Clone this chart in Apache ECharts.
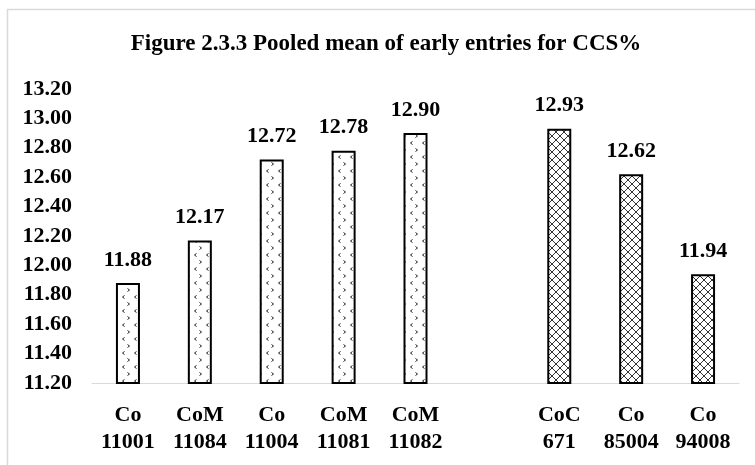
<!DOCTYPE html>
<html>
<head>
<meta charset="utf-8">
<script src="https://cdn.jsdelivr.net/npm/echarts@6/dist/echarts.min.js"></script>
<style>
  html, body { margin: 0; padding: 0; background: #fff; }
  #chart { width: 755px; height: 465px; }
</style>
</head>
<body>
<div id="chart"></div>
<script>
// Varieties (blank slot separates the test entries from the standards)
const categories = ['Co\n11001', 'CoM\n11084', 'Co\n11004', 'CoM\n11081', 'CoM\n11082', '', 'CoC\n671', 'Co\n85004', 'Co\n94008'];
const ccsValues = [11.88, 12.17, 12.72, 12.78, 12.90, null, 12.93, 12.62, 11.94];
const fillStyle = ['dots', 'dots', 'dots', 'dots', 'dots', null, 'hatch', 'hatch', 'hatch'];
const yTicks = { min: 11.2, max: 13.2, step: 0.2 };

const FONT = '"Liberation Serif", "Times New Roman", serif';

// Small chevron "confetti" fill
function makeDots() {
  const c = document.createElement('canvas');
  c.width = 12; c.height = 14;
  const g = c.getContext('2d');
  g.fillStyle = '#fff'; g.fillRect(0, 0, 12, 14);
  g.strokeStyle = '#222'; g.lineWidth = 1;
  g.beginPath();
  // "<" mark
  g.moveTo(4.5, 1.5); g.lineTo(2.5, 3); g.lineTo(4.5, 4.5);
  // ">" mark
  g.moveTo(7.5, 8.5); g.lineTo(9.5, 10); g.lineTo(7.5, 11.5);
  g.stroke();
  return c;
}

// Diamond cross-hatch fill
function makeHatch() {
  const c = document.createElement('canvas');
  c.width = 8; c.height = 8;
  const g = c.getContext('2d');
  g.fillStyle = '#fff'; g.fillRect(0, 0, 8, 8);
  g.strokeStyle = '#333'; g.lineWidth = 1;
  g.beginPath();
  g.moveTo(0, 0); g.lineTo(8, 8);
  g.moveTo(8, 0); g.lineTo(0, 8);
  g.stroke();
  return c;
}

const patterns = { dots: makeDots(), hatch: makeHatch() };

const seriesData = ccsValues.map((v, i) => {
  if (v === null) return '-';
  return {
    value: v,
    itemStyle: { color: { image: patterns[fillStyle[i]], repeat: 'repeat' } }
  };
});

const chart = echarts.init(document.getElementById('chart'), null, { renderer: 'canvas' });

chart.setOption({
  animation: false,
  backgroundColor: '#fff',
  title: {
    text: 'Figure 2.3.3 Pooled mean of early entries for CCS%',
    left: 381, top: 28, textAlign: 'center',
    textStyle: { fontFamily: FONT, fontWeight: 'bold', fontSize: 23, color: '#000' }
  },
  graphic: [{
    type: 'polyline',
    shape: { points: [[7.5, 470], [7.5, 9.5], [760, 9.5]] },
    style: { stroke: '#d9d9d9', lineWidth: 1.5, fill: null },
    silent: true
  }],
  grid: { left: 92, right: 16, top: 89, bottom: 82, containLabel: false },
  xAxis: {
    type: 'category',
    data: categories,
    axisLine: { show: true, lineStyle: { color: '#d9d9d9', width: 1 } },
    axisTick: { show: false },
    axisLabel: {
      interval: 0, margin: 19, lineHeight: 27,
      fontFamily: FONT, fontWeight: 'bold', fontSize: 22, color: '#000'
    }
  },
  yAxis: {
    type: 'value',
    min: yTicks.min, max: yTicks.max, interval: yTicks.step,
    splitLine: { show: false },
    axisLine: { show: false },
    axisTick: { show: false },
    axisLabel: {
      margin: 20,
      formatter: v => v.toFixed(2),
      fontFamily: FONT, fontWeight: 'bold', fontSize: 22, color: '#000'
    }
  },
  series: [{
    type: 'bar',
    data: seriesData,
    barWidth: 24,
    itemStyle: { borderColor: '#000', borderWidth: 2 },
    label: {
      show: true, position: 'top', distance: 12,
      formatter: p => p.value.toFixed(2),
      fontFamily: FONT, fontWeight: 'bold', fontSize: 22, color: '#000'
    }
  }]
});
</script>
</body>
</html>
